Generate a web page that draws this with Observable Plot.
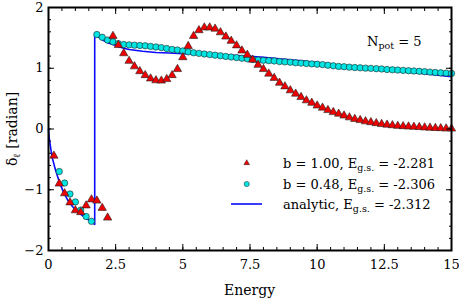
<!DOCTYPE html>
<html>
<head>
<meta charset="utf-8">
<script src="https://cdn.jsdelivr.net/npm/d3@7"></script>
<script src="https://cdn.jsdelivr.net/npm/@observablehq/plot@0.6"></script>
<style>
  html, body { margin: 0; padding: 0; background: white; }
</style>
</head>
<body>
<script>
// ---- data ----
// b = 1.00 (red triangles), low branch
const triLowE = [0.2, 0.4, 0.6, 0.8, 1.0, 1.2, 1.4, 1.6, 1.8, 2.0, 2.2];
const triLowD = [-0.44, -0.90, -1.06, -1.21, -1.34, -1.37, -1.26, -1.16, -1.18, -1.30, -1.46];
// b = 1.00, high branch (E = 2.4 ... 15, step 0.2)
const triHighE = [2.4, 2.6, 2.8, 3.0, 3.2, 3.4, 3.6, 3.8, 4.0, 4.2, 4.4, 4.6, 4.8, 5.0, 5.2, 5.4, 5.6, 5.8, 6.0, 6.2,
  6.4, 6.6, 6.8, 7.0, 7.2, 7.4, 7.6, 7.8, 8.0, 8.2, 8.4, 8.6, 8.8, 9.0, 9.2, 9.4, 9.6, 9.8, 10.0, 10.2,
  10.4, 10.6, 10.8, 11.0, 11.2, 11.4, 11.6, 11.8, 12.0, 12.2, 12.4, 12.6, 12.8, 13.0, 13.2, 13.4, 13.6, 13.8, 14.0, 14.2,
  14.4, 14.6, 14.8, 15.0];
const triHighD = [1.53, 1.38, 1.245, 1.12, 1.03, 0.95, 0.885, 0.83, 0.80, 0.795, 0.82, 0.885, 0.985, 1.18, 1.365, 1.53, 1.625, 1.67, 1.67, 1.65,
  1.59, 1.52, 1.45, 1.375, 1.29, 1.22, 1.14, 1.055, 0.985, 0.91, 0.84, 0.76, 0.70, 0.635, 0.58, 0.525, 0.47, 0.43, 0.385, 0.35,
  0.31, 0.277, 0.25, 0.22, 0.19, 0.165, 0.145, 0.125, 0.11, 0.095, 0.08, 0.07, 0.06, 0.05, 0.045, 0.04, 0.035, 0.03, 0.025, 0.02,
  0.015, 0.012, 0.008, 0.005];

// b = 0.48 (cyan circles), low branch
const cirLowE = [0.4, 0.6, 0.8, 1.0, 1.2, 1.4, 1.6];
const cirLowD = [-0.70, -0.89, -1.07, -1.20, -1.335, -1.44, -1.52];
// b = 0.48, high branch (E = 1.8 ... 15, step 0.2)
const cirHighE = [1.8, 2.0, 2.2, 2.4, 2.6, 2.8, 3.0, 3.2, 3.4, 3.6, 3.8, 4.0, 4.2, 4.4, 4.6, 4.8, 5.0, 5.2, 5.4, 5.6,
  5.8, 6.0, 6.2, 6.4, 6.6, 6.8, 7.0, 7.2, 7.4, 7.6, 7.8, 8.0, 8.2, 8.4, 8.6, 8.8, 9.0, 9.2, 9.4, 9.6,
  9.8, 10.0, 10.2, 10.4, 10.6, 10.8, 11.0, 11.2, 11.4, 11.6, 11.8, 12.0, 12.2, 12.4, 12.6, 12.8, 13.0, 13.2, 13.4, 13.6,
  13.8, 14.0, 14.2, 14.4, 14.6, 14.8, 15.0];
const cirHighD = [1.555, 1.51, 1.465, 1.435, 1.405, 1.39, 1.385, 1.38, 1.375, 1.37, 1.36, 1.35, 1.34, 1.325, 1.31, 1.30, 1.285, 1.27, 1.255, 1.245,
  1.235, 1.225, 1.215, 1.205, 1.195, 1.185, 1.175, 1.165, 1.155, 1.145, 1.135, 1.13, 1.125, 1.12, 1.11, 1.105, 1.10, 1.09, 1.085, 1.078,
  1.072, 1.066, 1.06, 1.05, 1.04, 1.03, 1.025, 1.018, 1.012, 1.007, 1.002, 0.998, 0.993, 0.988, 0.98, 0.975, 0.97, 0.965, 0.96, 0.955,
  0.95, 0.945, 0.937, 0.931, 0.925, 0.92, 0.915];

// analytic curve (blue line)
const anaE = [0, 0.02, 0.05, 0.1, 0.15, 0.25, 0.4, 0.55, 0.7, 0.9, 1.1, 1.3, 1.5, 1.72,
  1.72, 1.8, 2.0, 2.2, 2.4, 2.6, 2.8, 3.0, 3.5, 4.0, 4.5, 5.0, 5.5, 6.0, 6.5, 7.0, 7.5, 8.0, 8.5, 9.0,
  9.5, 10.0, 10.5, 11.0, 11.5, 12.0, 12.5, 13.0, 13.5, 14.0, 14.5, 15.0];
const anaD = [0, -0.12, -0.22, -0.37, -0.49, -0.66, -0.87, -1.03, -1.16, -1.28, -1.37, -1.44, -1.50, -1.57,
  1.56, 1.53, 1.47, 1.42, 1.39, 1.36, 1.33, 1.31, 1.28, 1.26, 1.25, 1.24, 1.235, 1.23, 1.22, 1.21, 1.195, 1.18, 1.16, 1.14,
  1.12, 1.095, 1.07, 1.045, 1.02, 0.995, 0.97, 0.95, 0.93, 0.91, 0.885, 0.86];

// axis ticks
const xMajor = [0, 2.5, 5, 7.5, 10, 12.5, 15];
const xMajorLabels = ["0", "2.5", "5", "7.5", "10", "12.5", "15"];
const yMajor = [-2, -1, 0, 1, 2];
const yMajorLabels = ["\u22122", "\u22121", "0", "1", "2"];
const xMinor = d3.range(0, 15.01, 0.5);
const yMinor = d3.range(-2, 2.01, 0.2);

// legend texts
const legendLabels = [
  ["b = 1.00, E", "g.s.", " = -2.281"],
  ["b = 0.48, E", "g.s.", " = -2.306"],
  ["analytic, E", "g.s.", " = -2.312"]
];

// ---- build tables ----
const tri = triLowE.map((e, i) => ({e, d: triLowD[i]})).concat(triHighE.map((e, i) => ({e, d: triHighD[i]})));
const cir = cirLowE.map((e, i) => ({e, d: cirLowD[i]})).concat(cirHighE.map((e, i) => ({e, d: cirHighD[i]})));
const ana = anaE.map((e, i) => ({e, d: anaD[i]}));

const FONT = "DejaVu Serif";
const blank = () => "";

const chart = Plot.plot({
  width: 459,
  height: 302,
  marginLeft: 48,
  marginRight: 8,
  marginTop: 7,
  marginBottom: 52,
  style: {fontFamily: FONT, fontSize: "13px", background: "white", color: "black"},
  x: {domain: [0, 15], axis: null},
  y: {domain: [-2, 2], axis: null},
  marks: [
    Plot.line(ana, {x: "e", y: "d", stroke: "#0a0aff", strokeWidth: 1.6}),
    Plot.dot(cir, {x: "e", y: "d", r: 3.2, fill: "#00e4e4", stroke: "#222", strokeWidth: 0.6}),
    Plot.dot(tri, {x: "e", y: "d", r: 3.1, symbol: "triangle", fill: "#ee0000", stroke: "#222", strokeWidth: 0.6}),
    // minor ticks, all four sides
    Plot.axisX({ticks: xMinor, anchor: "bottom", tickSize: -3, tickFormat: blank, label: null}),
    Plot.axisX({ticks: xMinor, anchor: "top", tickSize: -3, tickFormat: blank, label: null}),
    Plot.axisY({ticks: yMinor, anchor: "left", tickSize: -3, tickFormat: blank, label: null}),
    Plot.axisY({ticks: yMinor, anchor: "right", tickSize: -3, tickFormat: blank, label: null}),
    // major ticks
    Plot.axisX({ticks: xMajor, anchor: "bottom", tickSize: -6, tickPadding: 15,
      tickFormat: (d) => xMajorLabels[xMajor.indexOf(d)], label: null}),
    Plot.axisX({ticks: xMajor, anchor: "top", tickSize: -6, tickFormat: blank, label: null}),
    Plot.axisY({ticks: yMajor, anchor: "left", tickSize: -6, tickPadding: 11,
      tickFormat: (d) => yMajorLabels[yMajor.indexOf(d)], label: null}),
    Plot.axisY({ticks: yMajor, anchor: "right", tickSize: -6, tickFormat: blank, label: null}),
    Plot.frame({stroke: "black", strokeWidth: 2})
  ]
});

document.body.appendChild(chart);

// ---- texts with subscripts and the legend ----
const svg = d3.select(chart);
const g = svg.append("g").attr("font-family", FONT).attr("font-size", 13).attr("fill", "black");

function subText(parent, x, y, parts, anchor) {
  const t = parent.append("text").attr("x", x).attr("y", y).attr("text-anchor", anchor || "start");
  t.append("tspan").text(parts[0]);
  t.append("tspan").attr("font-size", 9.5).attr("dy", 3).text(parts[1]);
  t.append("tspan").attr("dy", -3).text(parts[2]);
  return t;
}

// x axis title
g.append("text").attr("x", 249.5).attr("y", 295).attr("text-anchor", "middle").attr("font-size", 14).text("Energy");

// y axis title
const yl = g.append("g").attr("transform", "translate(17,129) rotate(-90)").attr("font-size", 14);
subText(yl, 0, 0, ["\u03b4", "\u2113", " [radian]"], "middle");

// N_pot label
subText(g, 367, 46, ["N", "pot", " = 5"]);

// legend
const rows = [163, 184, 204];
g.append("path").attr("d", d3.symbol(d3.symbolTriangle, 14)())
  .attr("transform", `translate(246.7,${rows[0]})`).attr("fill", "#ee0000").attr("stroke", "#222").attr("stroke-width", 0.5);
g.append("circle").attr("cx", 246.7).attr("cy", rows[1]).attr("r", 2.6)
  .attr("fill", "#00e4e4").attr("stroke", "#222").attr("stroke-width", 0.5);
g.append("line").attr("x1", 231).attr("x2", 262).attr("y1", rows[2]).attr("y2", rows[2])
  .attr("stroke", "#0a0aff").attr("stroke-width", 1.6);
legendLabels.forEach((parts, i) => subText(g, 283, rows[i] + 5, parts));
</script>
</body>
</html>
